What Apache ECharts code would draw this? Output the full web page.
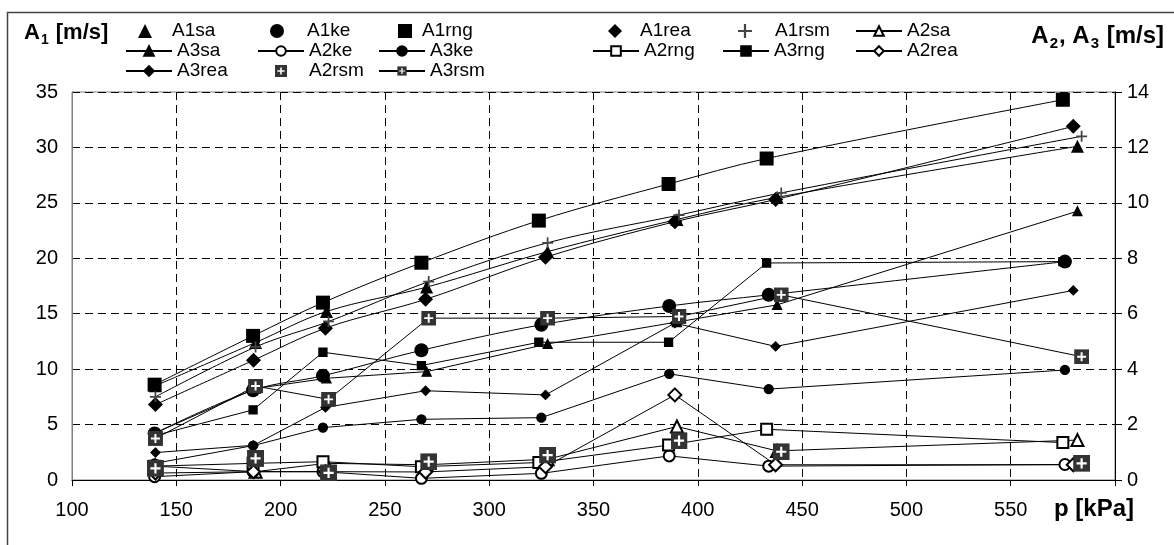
<!DOCTYPE html>
<html><head><meta charset="utf-8">
<script src="https://cdn.jsdelivr.net/npm/echarts@6/dist/echarts.min.js"></script>
<style>html,body{margin:0;padding:0;background:#fff}#c{width:1174px;height:545px}</style>
</head><body><div id="c"></div>
<script>
// pressure positions (kPa) per measurement group
const pKe  = [139.6, 186.8, 220.3, 267.5, 325, 386.3, 434, 576];
const pRng = [139.6, 186.8, 220.3, 267.5, 323.8, 386, 433, 575];
const pSa  = [140, 188, 222, 270, 328, 390, 438, 582];
const pRea = [140, 187, 221.5, 269.5, 327, 389, 437.3, 580];
const pRsm = [140, 188, 223, 271, 328, 391, 440, 584];

// A1 (left axis)
const A1sa  = [8.5, 12.4, 15.2, 17.4, 20.6, 23.5, 25.5, 30.1];
const A1ke  = [4.2, 8.1, 9.4, 11.7, 14.0, 15.7, 16.7, 19.7];
const A1rng = [8.6, 13.0, 16.0, 19.6, 23.4, 26.7, 29.0, 34.3];
const A1rea = [6.8, 10.8, 13.7, 16.3, 20.1, 23.3, 25.3, 31.9];
const A1rsm = [7.5, 12.0, 14.3, 17.9, 21.4, 23.9, 25.9, 31.0];
// A2 (right axis)
const A2sa  = [0.5, 0.3, 0.6, 0.55, 0.75, 1.93, 1.05, 1.44];
const A2ke  = [0.12, 0.3, 0.3, 0.06, 0.24, 0.87, 0.5, 0.56];
const A2rng = [0.5, 0.6, 0.66, 0.48, 0.63, 1.26, 1.83, 1.35];
const A2rea = [0.25, 0.3, 0.3, 0.29, 0.48, 3.07, 0.55, 0.55];
const A2rsm = [0.42, 0.78, 0.26, 0.66, 0.9, 1.42, 1.02, 0.6];
// A3 (right axis)
const A3sa  = [1.7, 3.3, 3.67, 3.91, 4.91, 5.7, 6.32, 9.7];
const A3ke  = [0.6, 1.24, 1.89, 2.19, 2.25, 3.83, 3.28, 3.97];
const A3rng = [1.6, 2.53, 4.61, 4.13, 4.97, 4.97, 7.83, 7.88];
const A3rea = [0.99, 1.25, 2.62, 3.22, 3.07, 5.66, 4.82, 6.84];
const A3rsm = [1.5, 3.39, 2.91, 5.84, 5.84, 5.9, 6.68, 4.45];

// axis ticks
const xMin = 100, xMax = 600, xStep = 50;
const yLMax = 35, yLStep = 5;
const yRMax = 14, yRStep = 2;

const FONT = 'Liberation Sans, Arial, sans-serif';
const pair = (xs, ys) => xs.map((x, i) => [x, ys[i]]);
const plusPath = 'path://M4.2,0H5.8V4.2H10V5.8H5.8V10H4.2V5.8H0V4.2H4.2Z';
const plusBox = 'image://data:image/svg+xml;utf8,' + encodeURIComponent(
  "<svg xmlns='http://www.w3.org/2000/svg' width='20' height='20'><rect width='20' height='20' fill='#333'/><path d='M10 4V16M4 10H16' stroke='#fff' stroke-width='2.6'/></svg>");

function scatterA1(name, xs, ys, symbol, size, color) {
  return { name, type: 'scatter', yAxisIndex: 0, data: pair(xs, ys), symbol, symbolSize: size,
    itemStyle: { color: color || '#000', opacity: 1 }, z: 5 };
}
function trend(name, xs, ys) {
  return { name: 'trend ' + name, type: 'line', yAxisIndex: 0, data: pair(xs, ys), smooth: 0.35,
    showSymbol: false, silent: true, lineStyle: { color: '#000', width: 1 }, z: 2 };
}
function lineR(name, xs, ys, symbol, size, extra) {
  return Object.assign({ name, type: 'line', yAxisIndex: 1, data: pair(xs, ys), symbol, symbolSize: size,
    showAllSymbol: true, lineStyle: { color: '#000', width: 1 },
    itemStyle: { color: '#000', borderColor: '#000', borderWidth: 1.3 }, z: 3 }, extra || {});
}

const series = [
  trend('A1sa', pSa, A1sa), trend('A1ke', pKe, A1ke), trend('A1rng', pRng, A1rng),
  trend('A1rea', pRea, A1rea), trend('A1rsm', pRsm, A1rsm),
  scatterA1('A1sa', pSa, A1sa, 'triangle', 13),
  scatterA1('A1ke', pKe, A1ke, 'circle', 14),
  scatterA1('A1rng', pRng, A1rng, 'rect', 14),
  scatterA1('A1rea', pRea, A1rea, 'diamond', 15),
  scatterA1('A1rsm', pRsm, A1rsm, plusPath, 11, '#444'),
  lineR('A2sa', pSa, A2sa, 'emptyTriangle', 12),
  lineR('A3sa', pSa, A3sa, 'triangle', 9),
  lineR('A2ke', pKe, A2ke, 'emptyCircle', 11),
  lineR('A3ke', pKe, A3ke, 'circle', 9),
  lineR('A2rng', pRng, A2rng, 'emptyRect', 11),
  lineR('A3rng', pRng, A3rng, 'rect', 8),
  lineR('A2rea', pRea, A2rea, 'emptyDiamond', 13),
  lineR('A3rea', pRea, A3rea, 'diamond', 9),
  { name: 'A2rsm', type: 'scatter', yAxisIndex: 1, data: pair(pRsm, A2rsm), symbol: plusBox, symbolSize: 17,
    itemStyle: { opacity: 1 }, z: 6 },
  lineR('A3rsm', pRsm, A3rsm, plusBox, 15, { z: 6 })
];

const ROW1 = 16, ROW2 = 36;
function legend(left, top, names, iw, pad) {
  return { left, top, orient: 'vertical', itemGap: 0, itemWidth: iw || 46, itemHeight: iw ? 14 : 12,
    selectedMode: false, data: names,
    textStyle: { fontSize: 19, lineHeight: 20, fontFamily: FONT, color: '#000', padding: [0, 0, 0, pad || 0] } };
}

const chart = echarts.init(document.getElementById('c'), null, { renderer: 'canvas' });
chart.setOption({
  backgroundColor: '#fff',
  animation: false,
  grid: { left: 72, right: 59, top: 92, bottom: 65, show: true, borderColor: '#808080', borderWidth: 1 },
  legend: [
    legend(133, ROW1, ['A1sa'], 14, 15),
    legend(265, ROW1, ['A1ke'], 14, 18),
    legend(393, ROW1, ['A1rng'], 14, 5),
    legend(603, ROW1, ['A1rea'], 14, 13),
    legend(733, ROW1, ['A1rsm'], 14, 18),
    legend(120, ROW2, ['A3sa', 'A3rea']),
    legend(252, ROW2, ['A2ke', 'A2rsm']),
    legend(373, ROW2, ['A3ke', 'A3rsm']),
    legend(587, ROW2, ['A2rng']),
    legend(717, ROW2, ['A3rng']),
    legend(850, ROW1, ['A2sa', 'A2rea'])
  ],
  xAxis: {
    type: 'value', min: xMin, max: xMax, interval: xStep,
    axisLine: { show: true, lineStyle: { color: '#000', width: 1 } },
    axisTick: { show: true, length: 6, lineStyle: { color: '#000' } },
    axisLabel: { fontSize: 20, fontFamily: FONT, color: '#000', margin: 20,
      formatter: v => (v === xMax ? '' : String(v)) },
    splitLine: { show: true, lineStyle: { color: '#000', width: 1, type: [8, 5] } }
  },
  yAxis: [
    { type: 'value', min: 0, max: yLMax, interval: yLStep, position: 'left',
      axisLine: { show: true, lineStyle: { color: '#808080', width: 1 } },
      axisTick: { show: false },
      axisLabel: { fontSize: 20, fontFamily: FONT, color: '#000', margin: 14 },
      splitLine: { show: true, lineStyle: { color: '#000', width: 1, type: [8, 5] } } },
    { type: 'value', min: 0, max: yRMax, interval: yRStep, position: 'right',
      axisLine: { show: true, lineStyle: { color: '#000', width: 1 } },
      axisTick: { show: true, length: 7, lineStyle: { color: '#000' } },
      axisLabel: { fontSize: 20, fontFamily: FONT, color: '#000', margin: 12 },
      splitLine: { show: false } }
  ],
  graphic: [
    { type: 'rect', left: 5, top: 10, shape: { width: 1300, height: 700 }, silent: true,
      style: { fill: 'none', stroke: '#444', lineWidth: 1.5 }, z: -1 },
    { type: 'text', left: 24, top: 22,
      style: { text: '{a|A}{s|1}{a| [m/s]}', fill: '#000',
        rich: { a: { fontSize: 22, fontWeight: 'bold', fontFamily: FONT, lineHeight: 25 },
                s: { fontSize: 14, fontWeight: 'bold', fontFamily: FONT, lineHeight: 14, verticalAlign: 'bottom', padding: [0, 1, -2, 1] } } } },
    { type: 'text', right: 10, top: 24,
      style: { text: '{a|A}{s|2}{a|, A}{s|3}{a| [m/s]}', fill: '#000',
        rich: { a: { fontSize: 24, fontWeight: 'bold', fontFamily: FONT, lineHeight: 27 },
                s: { fontSize: 15, fontWeight: 'bold', fontFamily: FONT, lineHeight: 15, verticalAlign: 'bottom', padding: [0, 1, -2, 1] } } } },
    { type: 'text', left: 1054, top: 497,
      style: { text: 'p [kPa]', fill: '#000', font: 'bold 24px ' + FONT } }
  ],
  series
});
</script></body></html>
